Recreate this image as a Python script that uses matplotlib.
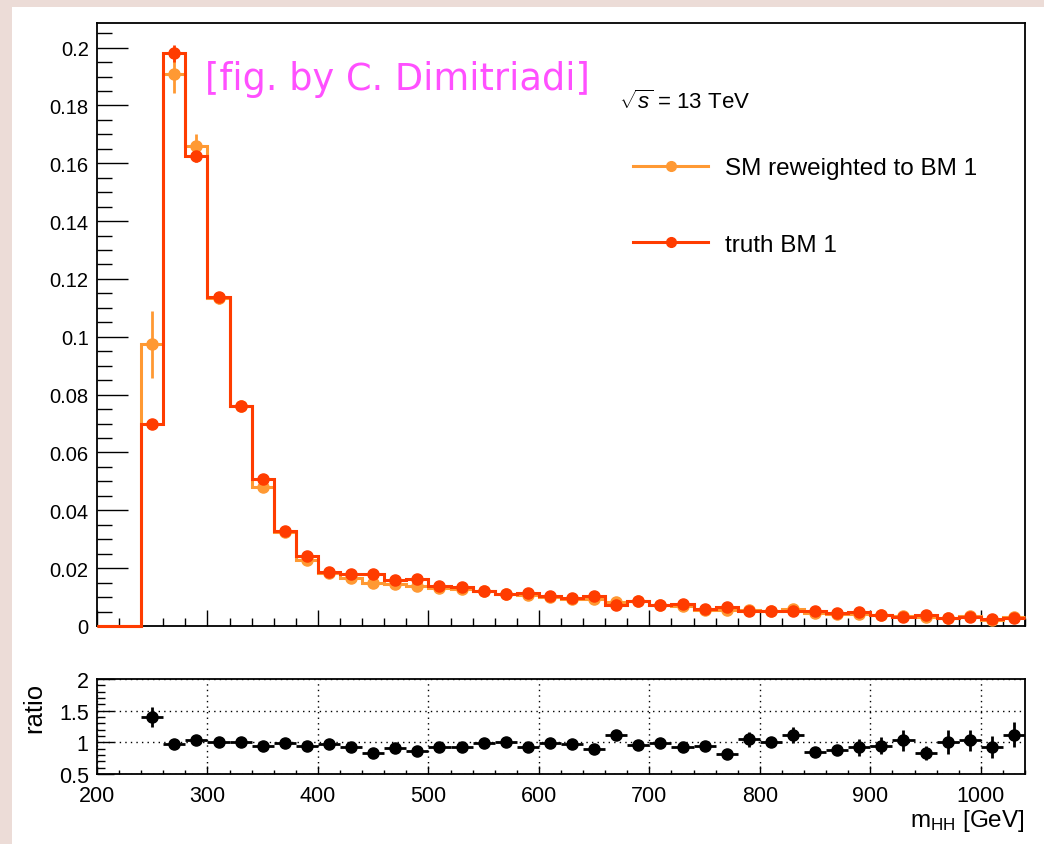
import numpy as np
import matplotlib
matplotlib.use("Agg")
import matplotlib.pyplot as plt
from matplotlib.lines import Line2D
from matplotlib.patches import Rectangle
from matplotlib.ticker import MultipleLocator, FuncFormatter

plt.rcParams['font.family'] = ['Liberation Sans', 'DejaVu Sans']
plt.rcParams['mathtext.fontset'] = 'custom'
plt.rcParams['mathtext.rm'] = 'Liberation Sans'
plt.rcParams['mathtext.it'] = 'Liberation Sans:italic'

# ---------------- data ----------------
bin_edges = list(range(200, 1041, 20))   # m_HH bins [GeV]
truth_bm1 = [0.0, 0.0,
             0.0698, 0.198, 0.1624, 0.1137, 0.0761, 0.0510, 0.0329, 0.0243,
             0.0188, 0.0180, 0.0180, 0.0159, 0.0162, 0.0140, 0.0136, 0.0122,
             0.0111, 0.0115, 0.0103, 0.0097, 0.0103, 0.0074, 0.0088, 0.0072,
             0.0075, 0.0059, 0.0067, 0.0053, 0.0051, 0.0052, 0.0053, 0.0045,
             0.0047, 0.0039, 0.0032, 0.0038, 0.0028, 0.0032, 0.0023, 0.0027]
truth_err = [0.0, 0.0,
             0.0015, 0.003, 0.002, 0.0015, 0.0012, 0.001, 0.0008, 0.0007,
             0.0006, 0.0006, 0.0006, 0.0005, 0.0005, 0.0005, 0.0005, 0.0004,
             0.0004, 0.0004, 0.0004, 0.0004, 0.0004, 0.0003, 0.0003, 0.0003,
             0.0003, 0.0003, 0.0003, 0.0003, 0.0003, 0.0003, 0.0003, 0.0003,
             0.0003, 0.0003, 0.0003, 0.0003, 0.0003, 0.0003, 0.0003, 0.0003]
sm_rw_bm1 = [0.0, 0.0,
             0.0974, 0.1907, 0.166, 0.1135, 0.0760, 0.0482, 0.0324, 0.0229,
             0.0184, 0.0166, 0.0150, 0.0145, 0.0140, 0.0130, 0.0127, 0.0121,
             0.0111, 0.0107, 0.0102, 0.0094, 0.0092, 0.0082, 0.0085, 0.0071,
             0.0069, 0.0055, 0.0054, 0.0056, 0.0051, 0.0058, 0.0045, 0.0040,
             0.0043, 0.0037, 0.0033, 0.0032, 0.0028, 0.0033, 0.0021, 0.0030]
sm_rw_err = [0.0, 0.0,
             0.0116, 0.0063, 0.004, 0.002, 0.0015, 0.001, 0.0008, 0.0007,
             0.0006, 0.0006, 0.0006, 0.0005, 0.0005, 0.0005, 0.0005, 0.0005,
             0.0005, 0.0005, 0.0005, 0.0005, 0.0005, 0.0005, 0.0005, 0.0004,
             0.0004, 0.0004, 0.0004, 0.0004, 0.0004, 0.0004, 0.0004, 0.0004,
             0.0004, 0.0004, 0.0004, 0.0004, 0.0004, 0.0004, 0.0004, 0.0004]
ratio = [1.40, 0.97, 1.03, 1.00, 1.00, 0.95, 0.99, 0.94, 0.98, 0.92,
         0.83, 0.91, 0.86, 0.93, 0.93, 0.99, 1.00, 0.93, 0.99, 0.97,
         0.89, 1.11, 0.96, 0.99, 0.92, 0.94, 0.81, 1.05, 1.00, 1.12,
         0.85, 0.88, 0.92, 0.95, 1.03, 0.83, 1.00, 1.03, 0.93, 1.12]
ratio_err = [0.16, 0.04, 0.04, 0.03, 0.03, 0.03, 0.03, 0.03, 0.03, 0.03,
             0.03, 0.04, 0.04, 0.04, 0.04, 0.04, 0.04, 0.04, 0.04, 0.04,
             0.04, 0.07, 0.04, 0.05, 0.05, 0.05, 0.05, 0.12, 0.08, 0.13,
             0.07, 0.08, 0.13, 0.13, 0.17, 0.11, 0.19, 0.17, 0.17, 0.20]
ratio_first_bin = 2  # ratio defined from the 240-260 bin onward

y_ticks_main = [0, 0.02, 0.04, 0.06, 0.08, 0.1, 0.12, 0.14, 0.16, 0.18, 0.2]
x_ticks = [200, 300, 400, 500, 600, 700, 800, 900, 1000]
y_ticks_ratio = [0.5, 1, 1.5, 2]

labels = ["SM reweighted to BM 1", "truth BM 1"]
c_orange = '#ff9933'
c_red = '#ff3c00'

# ---------------- figure ----------------
W, H = 1044, 845
fig = plt.figure(figsize=(W / 100, H / 100), dpi=100)
fig.patch.set_facecolor('#ecdcd7')
fig.patches.append(Rectangle((12 / W, 0), 1 - 12 / W, 1 - 8 / H,
                             transform=fig.transFigure, facecolor='white',
                             edgecolor='none', zorder=-10))

def fx(px):
    return px / W

def fy(py):
    return 1 - py / H

ax = fig.add_axes([fx(97), fy(627), fx(1025) - fx(97), fy(24) - fy(627)])
axr = fig.add_axes([fx(97), fy(775), fx(1025) - fx(97), fy(680) - fy(775)])
ax.set_zorder(1)
axr.set_zorder(1)

edges = np.array(bin_edges, dtype=float)
centers = 0.5 * (edges[:-1] + edges[1:])
truth = np.array(truth_bm1)
smrw = np.array(sm_rw_bm1)

# orange
ax.stairs(smrw, edges, baseline=None, color=c_orange, lw=2.2, zorder=2.6,
          clip_on=False)
nz = slice(2, None)
ax.errorbar(centers[nz], smrw[nz], yerr=np.array(sm_rw_err)[nz], fmt='o',
            color=c_orange, ms=8, elinewidth=2, capsize=0, zorder=3)
# red
ax.stairs(truth, edges, baseline=None, color=c_red, lw=2.2, zorder=4,
          clip_on=False)
ax.errorbar(centers[nz], truth[nz], yerr=np.array(truth_err)[nz], fmt='o',
            color=c_red, ms=8, elinewidth=2, capsize=0, zorder=5)

ax.set_xlim(200, 1040)
ax.set_ylim(0, 0.2085)
ax.set_yticks(y_ticks_main)
ax.yaxis.set_major_formatter(FuncFormatter(lambda v, p: '%g' % round(v, 3)))
ax.yaxis.set_minor_locator(MultipleLocator(0.005))
ax.set_xticks(x_ticks)
ax.xaxis.set_minor_locator(MultipleLocator(20))
ax.tick_params(axis='x', which='both', direction='in', labelbottom=False,
               top=False, width=1.0, color='black')
ax.tick_params(axis='x', which='major', length=11.5)
ax.tick_params(axis='x', which='minor', length=5.8)
ax.tick_params(axis='y', which='both', direction='in', right=False, width=1.0)
ax.tick_params(axis='y', which='major', length=22, labelsize=14.5, pad=6)
ax.tick_params(axis='y', which='minor', length=11)
for s in ax.spines.values():
    s.set_linewidth(1.3)

# ratio panel
rc = centers[ratio_first_bin:]
axr.errorbar(rc, ratio, xerr=10, yerr=ratio_err, fmt='o', color='black',
             ms=8, elinewidth=2, capsize=0, zorder=3)
axr.set_xlim(200, 1040)
axr.set_ylim(0.5, 2)
axr.set_xticks(x_ticks)
axr.set_xticklabels([str(v) for v in x_ticks])
axr.xaxis.set_minor_locator(MultipleLocator(20))
axr.set_yticks(y_ticks_ratio)
axr.set_yticklabels(['0.5', '1', '1.5', '2'])
axr.yaxis.set_minor_locator(MultipleLocator(0.1))
axr.grid(True, which='major', linestyle=(0, (1, 3)), color='black', lw=1.0)
axr.tick_params(axis='x', which='both', direction='in', top=False,
                labelsize=15.5, pad=8, width=1.0)
axr.tick_params(axis='x', which='major', length=6)
axr.tick_params(axis='x', which='minor', length=3)
axr.tick_params(axis='y', which='both', direction='in', right=False, width=1.0)
axr.tick_params(axis='y', which='major', length=12, labelsize=15.5, pad=6)
axr.tick_params(axis='y', which='minor', length=6)
for s in axr.spines.values():
    s.set_linewidth(1.3)

fig.text(fx(34), fy(708), 'ratio', rotation=90, ha='center', va='center',
         fontsize=18.5)
fig.text(fx(1025), fy(827), r'm$_{\rm HH}$ [GeV]', ha='right', va='baseline',
         fontsize=17.5)

# annotations
fig.text(fx(619), fy(109), r'$\sqrt{s}$ = 13 TeV', ha='left', va='baseline',
         fontsize=16)
fig.text(fx(205), fy(90), '[fig. by C. Dimitriadi]', ha='left', va='baseline',
         fontsize=26.5, color='#ff50ff', family='DejaVu Sans')

handles = [Line2D([], [], color=c_orange, lw=2.2, marker='o', ms=7),
           Line2D([], [], color=c_red, lw=2.2, marker='o', ms=7)]
fig.legend(handles, labels, loc='upper left',
           bbox_to_anchor=(fx(633), fy(158)), frameon=False, fontsize=17.5,
           handlelength=3.1, handletextpad=0.7, labelspacing=2.25,
           borderpad=0, borderaxespad=0)

fig.savefig('out.png', dpi=100, facecolor=fig.get_facecolor())
